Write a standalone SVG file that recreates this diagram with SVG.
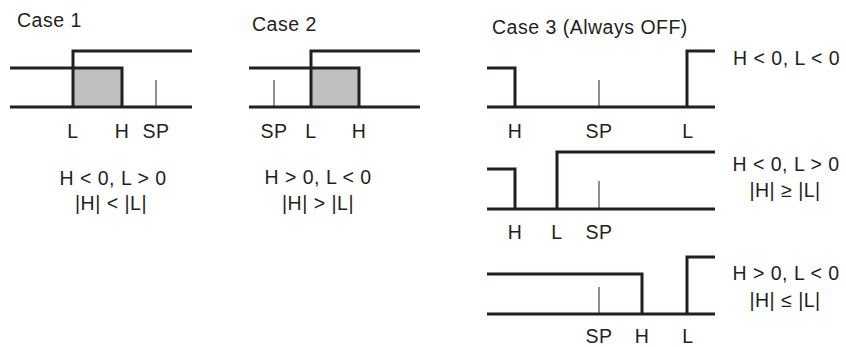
<svg xmlns="http://www.w3.org/2000/svg" width="846" height="347" viewBox="0 0 846 347">
<style>
.t{font-family:"Liberation Sans",Arial,sans-serif;font-size:19.5px;letter-spacing:0.5px;fill:#231f20}
.m{text-anchor:middle}
.w{fill:none;stroke:#231f20;stroke-width:3;stroke-linejoin:miter;stroke-linecap:butt}
.k{stroke:#231f20;stroke-width:1}
.s{fill:#c0c0c3}
</style>
<rect width="846" height="347" fill="#fff"/>
<g id="case1">
<text class="t" x="17" y="27">Case 1</text>
<rect class="s" x="73" y="68" width="49" height="39"/>
<line class="k" x1="156" y1="80" x2="156" y2="107"/>
<polyline class="w" points="10,68 122,68 122,107"/>
<polyline class="w" points="73,107 73,51 192,51"/>
<line class="w" x1="10" y1="107" x2="192" y2="107"/>
<text class="t m" x="73" y="138">L</text>
<text class="t m" x="122" y="138">H</text>
<text class="t m" x="156" y="138">SP</text>
<text class="t m" x="113" y="185">H &lt; 0, L &gt; 0</text>
<text class="t m" x="111" y="210">|H| &lt; |L|</text>
</g>
<g id="case2">
<text class="t" x="252" y="31">Case 2</text>
<rect class="s" x="311" y="68" width="48" height="39"/>
<line class="k" x1="274" y1="80" x2="274" y2="107"/>
<polyline class="w" points="249,68 359,68 359,107"/>
<polyline class="w" points="311,107 311,51 420,51"/>
<line class="w" x1="249" y1="107" x2="420" y2="107"/>
<text class="t m" x="274" y="138">SP</text>
<text class="t m" x="311" y="138">L</text>
<text class="t m" x="359" y="138">H</text>
<text class="t m" x="318" y="184">H &gt; 0, L &lt; 0</text>
<text class="t m" x="318" y="210">|H| &gt; |L|</text>
</g>
<g id="case3">
<text class="t" x="492" y="34">Case 3 (Always OFF)</text>
</g>
<g id="case3a">
<line class="k" x1="599" y1="80" x2="599" y2="107"/>
<polyline class="w" points="487,68 515,68 515,107"/>
<polyline class="w" points="687,107 687,51 715,51"/>
<line class="w" x1="487" y1="107" x2="715" y2="107"/>
<text class="t m" x="515" y="138">H</text>
<text class="t m" x="599" y="138">SP</text>
<text class="t m" x="688" y="138">L</text>
<text class="t" x="733" y="65">H &lt; 0, L &lt; 0</text>
</g>
<g id="case3b">
<line class="k" x1="599" y1="181" x2="599" y2="209"/>
<polyline class="w" points="487,169 515,169 515,209"/>
<polyline class="w" points="557,209 557,152 715,152"/>
<line class="w" x1="487" y1="209" x2="715" y2="209"/>
<text class="t m" x="515" y="239">H</text>
<text class="t m" x="557" y="239">L</text>
<text class="t m" x="599" y="239">SP</text>
<text class="t m" x="786" y="171">H &lt; 0, L &gt; 0</text>
<text class="t m" x="785" y="197">|H| ≥ |L|</text>
</g>
<g id="case3c">
<line class="k" x1="599" y1="287" x2="599" y2="314"/>
<polyline class="w" points="487,274 642,274 642,314"/>
<polyline class="w" points="687,314 687,257 715,257"/>
<line class="w" x1="487" y1="314" x2="715" y2="314"/>
<text class="t m" x="599" y="343">SP</text>
<text class="t m" x="642" y="343">H</text>
<text class="t m" x="688" y="343">L</text>
<text class="t m" x="786" y="280">H &gt; 0, L &lt; 0</text>
<text class="t m" x="785" y="307">|H| ≤ |L|</text>
</g>
<g id="connectors"></g>
</svg>
